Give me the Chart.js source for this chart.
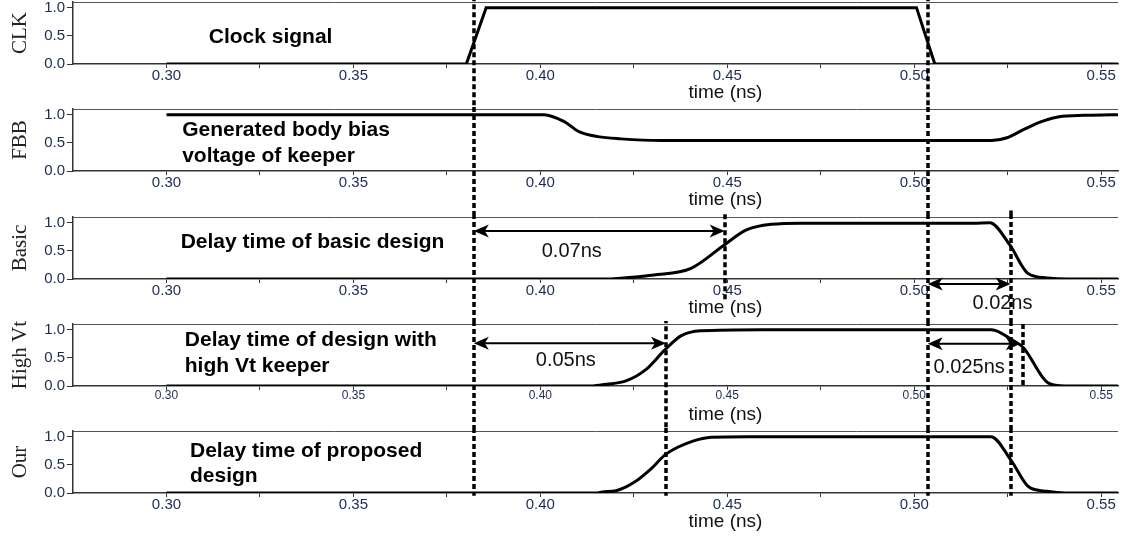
<!DOCTYPE html>
<html>
<head>
<meta charset="utf-8">
<script src="https://cdn.jsdelivr.net/npm/chart.js@4.4.1/dist/chart.umd.min.js"></script>
<style>
html,body{margin:0;padding:0;background:#fff;}
#wrap{position:relative;width:1123px;height:537px;overflow:hidden;}
#wrap canvas{position:absolute;left:0;}
</style>
</head>
<body>
<div id="wrap"></div>
<script>
// panel names (y titles)
const yTitles = ['CLK', 'FBB', 'Basic', 'High Vt', 'Our'];

// waveforms, time in ns
const clkTime = [0.30, 0.3802, 0.3855, 0.5006, 0.5055, 0.556];
const clkVolt = [0, 0, 1, 1, 0, 0];

const fbbTime = [0.30, 0.401, 0.4063, 0.4103, 0.4154, 0.4215, 0.4322, 0.5207, 0.5248, 0.5288, 0.5342, 0.5396, 0.5476, 0.556];
const fbbVolt = [1, 1, 0.88, 0.70, 0.61, 0.57, 0.54, 0.54, 0.59, 0.72, 0.88, 0.97, 0.99, 1.0];

const basicTime = [0.30, 0.4175, 0.4207, 0.4304, 0.4403, 0.4491, 0.4551, 0.4618, 0.4698, 0.5158, 0.5202, 0.5256, 0.5304, 0.5355, 0.541, 0.556];
const basicVolt = [0, 0, 0.01, 0.07, 0.19, 0.6, 0.87, 0.97, 0.99, 0.99, 1.0, 0.6, 0.1, 0.02, 0, 0];

const highVtTime = [0.30, 0.414, 0.4162, 0.4229, 0.4282, 0.4333, 0.4376, 0.4429, 0.459, 0.5207, 0.5261, 0.5292, 0.5359, 0.5403, 0.556];
const highVtVolt = [0, 0, 0.02, 0.09, 0.29, 0.64, 0.89, 0.98, 1.0, 1.0, 0.82, 0.68, 0.05, 0, 0];

const ourTime = [0.30, 0.415, 0.4166, 0.4202, 0.4251, 0.4296, 0.4336, 0.4408, 0.4457, 0.4555, 0.5205, 0.5259, 0.5306, 0.5355, 0.5403, 0.556];
const ourVolt = [0, 0, 0.02, 0.04, 0.19, 0.43, 0.69, 0.92, 0.99, 1.0, 1.0, 0.58, 0.11, 0.03, 0, 0];

// axis ticks
const timeTicks = [0.30, 0.325, 0.35, 0.375, 0.40, 0.425, 0.45, 0.475, 0.50, 0.525, 0.55];
const voltTicks = [0, 0.25, 0.5, 0.75, 1.0];

// annotations (time, value)
const captions = [
  {panel:0, t:0.3113, v:0.47, text:'Clock signal'},
  {panel:1, t:0.3042, v:0.72, text:'Generated body bias'},
  {panel:1, t:0.3042, v:0.26, text:'voltage of keeper'},
  {panel:2, t:0.3038, v:0.66, text:'Delay time of basic design'},
  {panel:3, t:0.3049, v:0.82, text:'Delay time of design with'},
  {panel:3, t:0.3049, v:0.36, text:'high Vt keeper'},
  {panel:4, t:0.3063, v:0.74, text:'Delay time of proposed'},
  {panel:4, t:0.3063, v:0.29, text:'design'}
];
const guides = [
  {t:0.3822, from:[0, 1.2], to:[4, -0.05]},
  {t:0.5036, from:[0, 1.2], to:[4, -0.05]},
  {t:0.4493, from:[2, 1.15], to:[2, -0.38]},
  {t:0.5258, from:[1, -0.7], to:[4, -0.05]},
  {t:0.4336, from:[3, 1.2], to:[4, -0.05]},
  {t:0.5292, from:[3, 1.1], to:[3, -0.02]}
];
const spans = [
  {panel:2, t0:0.3822, t1:0.4493, v:0.85, text:'0.07ns', tt:0.4084, tv:0.48},
  {panel:2, t0:0.5036, t1:0.5258, v:-0.09, text:'0.02ns', tt:0.5236, tv:-0.43},
  {panel:3, t0:0.3822, t1:0.4336, v:0.76, text:'0.05ns', tt:0.4068, tv:0.45},
  {panel:3, t0:0.5036, t1:0.5285, v:0.75, text:'0.025ns', tt:0.5147, tv:0.32}
];
const timeTitleAt = 0.4495;

const panels = [
  {time: clkTime, volt: clkVolt},
  {time: fbbTime, volt: fbbVolt},
  {time: basicTime, volt: basicVolt},
  {time: highVtTime, volt: highVtVolt},
  {time: ourTime, volt: ourVolt}
];

const panelTop = [0, 107, 214, 321, 428];
const panelH = [107, 107, 107, 107, 109];
const padTop = [2, 2, 3, 3, 3];
const plotH = 62;
const SANS = '"Liberation Sans", Arial, sans-serif';

function arrowHead(ctx, x, y, dir){
  ctx.beginPath();
  ctx.moveTo(x, y);
  ctx.lineTo(x - dir*15, y - 6.5);
  ctx.lineTo(x - dir*11, y);
  ctx.lineTo(x - dir*15, y + 6.5);
  ctx.closePath();
  ctx.fill();
}

const overlay = {
  id: 'overlay',
  afterDraw(chart, args, opts){
    const i = opts.panel;
    const {ctx, chartArea:a, scales:{x, y}} = chart;
    ctx.save();
    // top frame line
    ctx.strokeStyle = '#555'; ctx.lineWidth = 1;
    ctx.beginPath();
    ctx.moveTo(a.left, Math.round(a.top) + 0.5);
    ctx.lineTo(a.right, Math.round(a.top) + 0.5);
    ctx.stroke();

    // x axis title
    ctx.fillStyle = '#111';
    ctx.font = '19px ' + SANS;
    ctx.textAlign = 'center'; ctx.textBaseline = 'middle';
    ctx.fillText('time (ns)', x.getPixelForValue(timeTitleAt), a.bottom + 29);

    // captions
    ctx.fillStyle = '#000';
    ctx.font = 'bold 21px ' + SANS;
    ctx.textAlign = 'left';
    captions.filter(c => c.panel === i).forEach(c => {
      ctx.fillText(c.text, x.getPixelForValue(c.t), y.getPixelForValue(c.v));
    });

    // delay arrows
    spans.filter(s => s.panel === i).forEach(s => {
      const x0 = x.getPixelForValue(s.t0), x1 = x.getPixelForValue(s.t1);
      const py = y.getPixelForValue(s.v);
      ctx.strokeStyle = '#000'; ctx.lineWidth = 2;
      ctx.beginPath(); ctx.moveTo(x0 + 10, py); ctx.lineTo(x1 - 10, py); ctx.stroke();
      ctx.fillStyle = '#000';
      arrowHead(ctx, x0, py, -1);
      arrowHead(ctx, x1, py, 1);
      ctx.font = '20px ' + SANS;
      ctx.textAlign = 'center';
      ctx.fillStyle = '#111';
      ctx.fillText(s.text, x.getPixelForValue(s.tt), y.getPixelForValue(s.tv));
    });

    // dotted guide lines
    ctx.strokeStyle = '#000'; ctx.lineWidth = 3.5;
    ctx.setLineDash([5, 3]);
    guides.forEach(g => {
      if (i < g.from[0] || i > g.to[0]) return;
      const y0 = i === g.from[0] ? y.getPixelForValue(g.from[1]) : 0;
      const y1 = i === g.to[0] ? y.getPixelForValue(g.to[1]) : chart.height;
      const px = Math.round(x.getPixelForValue(g.t));
      ctx.beginPath(); ctx.moveTo(px, y0); ctx.lineTo(px, y1); ctx.stroke();
    });
    ctx.restore();
  }
};

const wrap = document.getElementById('wrap');

panels.forEach((p, i) => {
  const c = document.createElement('canvas');
  c.width = 1123; c.height = panelH[i];
  c.style.top = panelTop[i] + 'px';
  wrap.appendChild(c);

  new Chart(c, {
    type: 'line',
    data: {
      datasets: [{
        data: p.time.map((t, k) => ({x: t, y: p.volt[k]})),
        borderColor: '#000',
        borderWidth: 3,
        pointRadius: 0,
        tension: 0,
        cubicInterpolationMode: i === 0 ? 'default' : 'monotone',
        fill: false
      }]
    },
    options: {
      responsive: false,
      animation: false,
      events: [],
      layout: {padding: {top: padTop[i], right: 5, left: 0, bottom: 0}},
      plugins: {legend: {display: false}, tooltip: {enabled: false}, overlay: {panel: i}},
      scales: {
        x: {
          type: 'linear', min: 0.275, max: 0.5545,
          afterBuildTicks: s => { s.ticks = timeTicks.map(v => ({value: v})); },
          afterFit: s => {
            s.height = panelH[i] - padTop[i] - plotH;
            s.paddingLeft = 0; s.paddingRight = 0;
          },
          ticks: {
            autoSkip: false, maxRotation: 0, padding: 0,
            color: '#1d2b52',
            font: {family: SANS, size: i === 3 ? 12 : 15, lineHeight: 1},
            callback: v => (Math.round(v * 1000) % 50 === 0 ? v.toFixed(2) : '')
          },
          grid: {drawOnChartArea: false, drawTicks: true, tickLength: 4, tickColor: '#333'},
          border: {color: '#333', width: 1.5}
        },
        y: {
          min: 0, max: 1.1,
          afterBuildTicks: s => { s.ticks = voltTicks.map(v => ({value: v})); },
          afterFit: s => {
            s.width = 73;
            s.paddingTop = 0; s.paddingBottom = 0;
          },
          title: {display: true, text: yTitles[i], color: '#222', padding: {top: 8, bottom: 0},
                  font: {family: '"Liberation Serif", "Times New Roman", serif', size: 21}},
          ticks: {
            padding: 2, color: '#1d2b52',
            font: {family: SANS, size: 15, lineHeight: 1},
            callback: v => (Math.round(v * 100) % 50 === 0 ? v.toFixed(1) : '')
          },
          grid: {drawOnChartArea: false, drawTicks: true, tickLength: 6, tickColor: '#333'},
          border: {color: '#333', width: 1.5}
        }
      }
    },
    plugins: [overlay]
  });
});
</script>
</body>
</html>
